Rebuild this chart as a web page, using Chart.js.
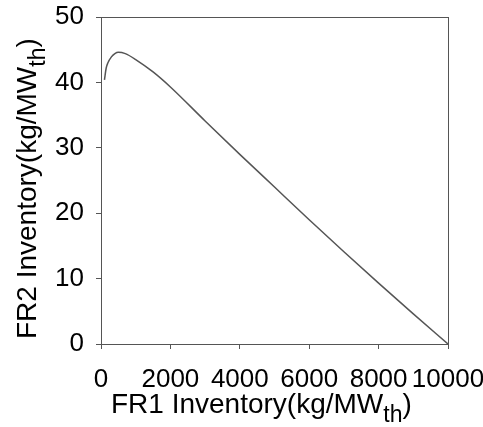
<!DOCTYPE html>
<html>
<head>
<meta charset="utf-8">
<script src="https://cdn.jsdelivr.net/npm/chart.js@4/dist/chart.umd.min.js"></script>
<style>
  html, body { margin: 0; padding: 0; background: #fff; }
  #wrap { width: 483px; height: 427px; }
</style>
</head>
<body>
<div id="wrap"><canvas id="inventory_chart"></canvas></div>
<script>
// FR1 inventory (x) against FR2 inventory (y), kg/MWth
var fr1Inventory = [100, 150, 200, 300, 400, 500, 700, 1000, 1500, 2000, 3000, 4000, 5000, 6000, 7000, 8000, 9000, 10000];
var fr2Inventory = [40.4, 42.2, 43.0, 43.9, 44.4, 44.6, 44.4, 43.5, 41.6, 39.3, 34.1, 29.0, 24.0, 19.0, 14.1, 9.3, 4.6, 0];
var xTicks = [0, 2000, 4000, 6000, 8000, 10000];
var yTicks = [0, 10, 20, 30, 40, 50];

var fontFamily = "'Liberation Sans', Arial, sans-serif";
var axisColor = '#555';

var points = [];
for (var i = 0; i < fr1Inventory.length; i++) {
  points.push({x: fr1Inventory[i], y: fr2Inventory[i]});
}

// titles with a subscript "th", plus the box round the plot area
var frameAndTitles = {
  id: 'frameAndTitles',
  afterDraw: function(chart) {
    var ctx = chart.ctx;
    var a = chart.chartArea;
    ctx.save();
    ctx.strokeStyle = axisColor;
    ctx.lineWidth = 1;
    ctx.strokeRect(a.left + 0.5, a.top + 0.5, a.right - a.left, a.bottom - a.top);

    ctx.fillStyle = '#000';
    ctx.textBaseline = 'alphabetic';
    ctx.textAlign = 'left';

    function titleWithSub(main, sub, x, y, rotate) {
      ctx.save();
      ctx.translate(x, y);
      if (rotate) ctx.rotate(-Math.PI / 2);
      ctx.font = '28px ' + fontFamily;
      ctx.fillText(main, 0, 0);
      var w = ctx.measureText(main).width;
      ctx.font = '23px ' + fontFamily;
      ctx.fillText(sub, w, 9);
      var ws = ctx.measureText(sub).width;
      ctx.font = '28px ' + fontFamily;
      ctx.fillText(')', w + ws, 0);
      ctx.restore();
    }
    titleWithSub('FR1 Inventory(kg/MW', 'th', a.left + 10, a.bottom + 69, false);
    titleWithSub('FR2 Inventory(kg/MW', 'th', 36, a.bottom - 5, true);
    ctx.restore();
  }
};

function plainNumber(value) {
  return String(value);
}

const inventory_chart = document.querySelector('#inventory_chart').getContext('2d');

let chart = new Chart(inventory_chart, {
  type: 'scatter',
  data: {
    datasets: [{
      data: points,
      showLine: true,
      borderColor: '#555',
      borderWidth: 1.5,
      pointRadius: 0,
      cubicInterpolationMode: 'monotone',
      fill: false,
    }]
  },
  options: {
    responsive: true,
    maintainAspectRatio: false,
    animation: false,
    layout: {
      padding: {top: 17, right: 35, left: 0, bottom: 0}
    },
    plugins: {
      legend: {display: false},
      tooltip: {enabled: false},
    },
    scales: {
      x: {
        type: 'linear',
        min: xTicks[0],
        max: xTicks[xTicks.length - 1],
        afterBuildTicks: function(scale) {
          scale.ticks = xTicks.map(function(v) { return {value: v}; });
        },
        afterFit: function(scale) {
          scale.height = 83;
          scale.paddingLeft = 0;
          scale.paddingRight = 0;
        },
        ticks: {
          autoSkip: false,
          maxRotation: 0,
          padding: 15,
          color: '#000',
          font: {family: fontFamily, size: 26},
          callback: plainNumber,
        },
        grid: {
          drawOnChartArea: false,
          tickLength: 5,
          color: axisColor,
        },
        border: {color: axisColor},
      },
      y: {
        min: yTicks[0],
        max: yTicks[yTicks.length - 1],
        afterBuildTicks: function(scale) {
          scale.ticks = yTicks.map(function(v) { return {value: v}; });
        },
        afterFit: function(scale) {
          scale.width = 101;
          scale.paddingTop = 0;
          scale.paddingBottom = 0;
        },
        ticks: {
          padding: 12,
          color: '#000',
          font: {family: fontFamily, size: 26},
          callback: plainNumber,
        },
        grid: {
          drawOnChartArea: false,
          tickLength: 5,
          color: axisColor,
        },
        border: {color: axisColor},
      },
    },
  },
  plugins: [frameAndTitles],
});
</script>
</body>
</html>
